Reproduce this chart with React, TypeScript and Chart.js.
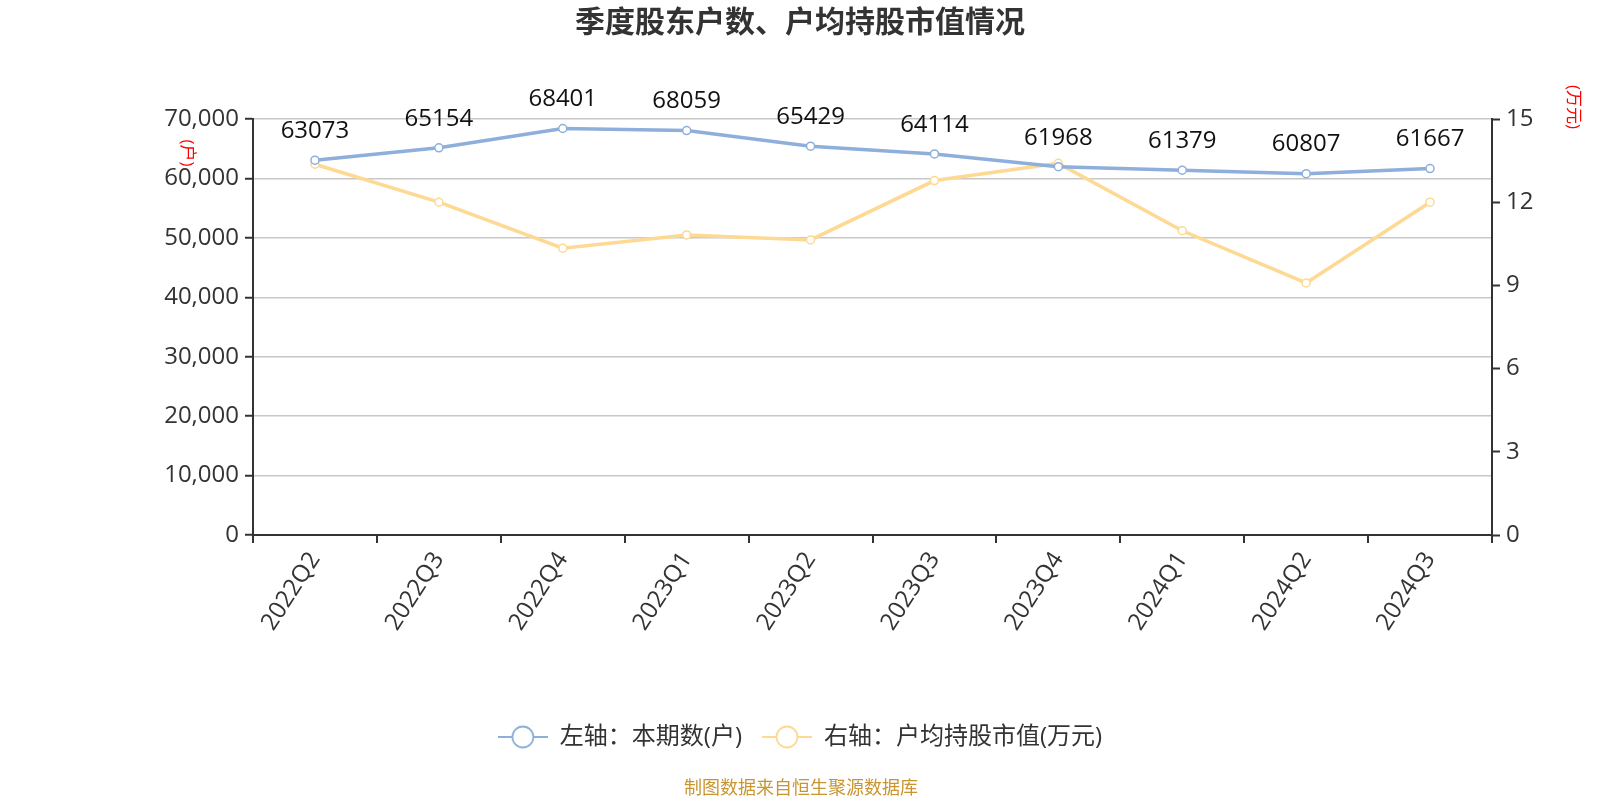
import React, { useEffect, useRef } from "react";
import { Chart, registerables } from "chart.js";
Chart.register(...registerables);

const categories = ["2022Q2","2022Q3","2022Q4","2023Q1","2023Q2","2023Q3","2023Q4","2024Q1","2024Q2","2024Q3"];
const holders = [63073,65154,68401,68059,65429,64114,61968,61379,60807,61667];
const avgValue = [13.37,12.0,10.34,10.82,10.64,12.78,13.4,10.97,9.09,12.0];
const leftTicks = { min: 0, max: 70000, step: 10000 };
const rightTicks = { min: 0, max: 15, step: 3 };

const BLUE = "#8eaedb";
const YELLOW = "#fdd993";
const FONT = "'Open Sans', 'Noto Sans CJK SC', sans-serif";

function legendIcon(color: string) {
  const c = document.createElement("canvas");
  c.width = 50; c.height = 26;
  const g = c.getContext("2d")!;
  g.strokeStyle = color; g.lineWidth = 2;
  g.beginPath(); g.moveTo(0, 13); g.lineTo(50, 13); g.stroke();
  g.beginPath(); g.arc(25, 13, 10.5, 0, Math.PI * 2);
  g.fillStyle = "#fff"; g.fill(); g.lineWidth = 1.8; g.stroke();
  return c;
}

const extrasPlugin = {
  id: "extras",
  afterDatasetsDraw(chart: any) {
    const ctx = chart.ctx;
    const meta = chart.getDatasetMeta(0);
    ctx.save();
    ctx.font = `24px ${FONT}`;
    ctx.fillStyle = "#111";
    ctx.textAlign = "center";
    ctx.textBaseline = "middle";
    meta.data.forEach((pt: any, i: number) => {
      ctx.fillText(String(holders[i]), pt.x, pt.y - 29);
    });
    ctx.restore();
  },
  afterDraw(chart: any) {
    const ctx = chart.ctx;
    const rot = (text: string, x: number, y: number) => {
      ctx.save();
      ctx.fillStyle = "#ff0000";
      ctx.font = `17px ${FONT}`;
      ctx.textAlign = "center";
      ctx.textBaseline = "middle";
      ctx.translate(x, y);
      ctx.rotate(Math.PI / 2);
      ctx.fillText(text, 0, 0);
      ctx.restore();
    };
    rot("(户)", 187, 153);
    rot("(万元)", 1573, 107);
    ctx.save();
    ctx.fillStyle = "#c8952f";
    ctx.font = `18px ${FONT}`;
    ctx.textAlign = "center";
    ctx.textBaseline = "middle";
    ctx.fillText("制图数据来自恒生聚源数据库", 801, 789);
    ctx.restore();
  },
};

export default function App() {
  const ref = useRef<HTMLCanvasElement>(null);
  useEffect(() => {
    document.body.style.margin = "0";
    const chart = new Chart(ref.current!, {
      type: "line",
      data: {
        labels: categories,
        datasets: [
          {
            label: "左轴：本期数(户)",
            data: holders,
            yAxisID: "y",
            borderColor: BLUE,
            backgroundColor: "#fff",
            borderWidth: 3.5,
            pointRadius: 4,
            pointBorderWidth: 1.5,
            pointBackgroundColor: "#fff",
            pointBorderColor: BLUE,
            pointStyle: "circle",
            tension: 0,
          } as any,
          {
            label: "右轴：户均持股市值(万元)",
            data: avgValue,
            yAxisID: "y1",
            borderColor: YELLOW,
            backgroundColor: "#fff",
            borderWidth: 3.5,
            pointRadius: 4,
            pointBorderWidth: 1.5,
            pointBackgroundColor: "#fff",
            pointBorderColor: YELLOW,
            pointStyle: "circle",
            tension: 0,
          } as any,
        ],
      },
      options: {
        animation: false,
        responsive: false,
        maintainAspectRatio: false,
        layout: { padding: { left: 0, right: 0, top: 0, bottom: 41 } },
        plugins: {
          title: {
            display: true,
            text: "季度股东户数、户均持股市值情况",
            color: "#333",
            font: { size: 30, weight: "bold", family: FONT },
            padding: { top: 5, bottom: 78 },
          },
          legend: {
            position: "bottom",
            labels: {
              usePointStyle: true,
              pointStyleWidth: 50,
              color: "#333",
              font: { size: 24, family: FONT },
              padding: 20,
              generateLabels: (chart: any) =>
                chart.data.datasets.map((ds: any, i: number) => ({
                  text: ds.label,
                  pointStyle: legendIcon(i === 0 ? BLUE : YELLOW),
                  fillStyle: "#fff",
                  strokeStyle: i === 0 ? BLUE : YELLOW,
                  lineWidth: 0,
                  fontColor: "#333",
                  datasetIndex: i,
                  hidden: false,
                })),
            },
          },
          tooltip: { enabled: false },
        },
        scales: {
          x: {
            offset: true,
            grid: { offset: true, drawOnChartArea: false, drawTicks: true, tickLength: 8, color: "#333", lineWidth: 2 },
            border: { color: "#333", width: 2 },
            ticks: { color: "#333", font: { size: 24, family: FONT }, maxRotation: 57, minRotation: 57, padding: 4 },
            afterFit: (s: any) => { s.height = 170; },
          },
          y: {
            position: "left",
            min: leftTicks.min,
            max: leftTicks.max,
            ticks: {
              stepSize: leftTicks.step,
              color: "#333",
              font: { size: 24, family: FONT },
              padding: 6,
              callback: (v: any) => Number(v).toLocaleString("en-US"),
            },
            grid: { color: "#c8c8c8", lineWidth: 1.5, tickLength: 8, tickColor: "#333", tickWidth: 2 },
            border: { color: "#333", width: 2 },
            afterFit: (s: any) => { s.width = 253; },
          },
          y1: {
            position: "right",
            min: rightTicks.min,
            max: rightTicks.max,
            ticks: { stepSize: rightTicks.step, color: "#333", font: { size: 24, family: FONT }, padding: 6 },
            grid: { drawOnChartArea: false, tickLength: 8, color: "#333", tickWidth: 2 },
            border: { color: "#333", width: 2 },
            afterFit: (s: any) => { s.width = 108; },
          },
        },
      },
      plugins: [extrasPlugin],
    });
    return () => chart.destroy();
  }, []);
  return (
    <div style={{ width: 1600, height: 800 }}>
      <canvas ref={ref} width={1600} height={800} style={{ width: 1600, height: 800 }} />
    </div>
  );
}
